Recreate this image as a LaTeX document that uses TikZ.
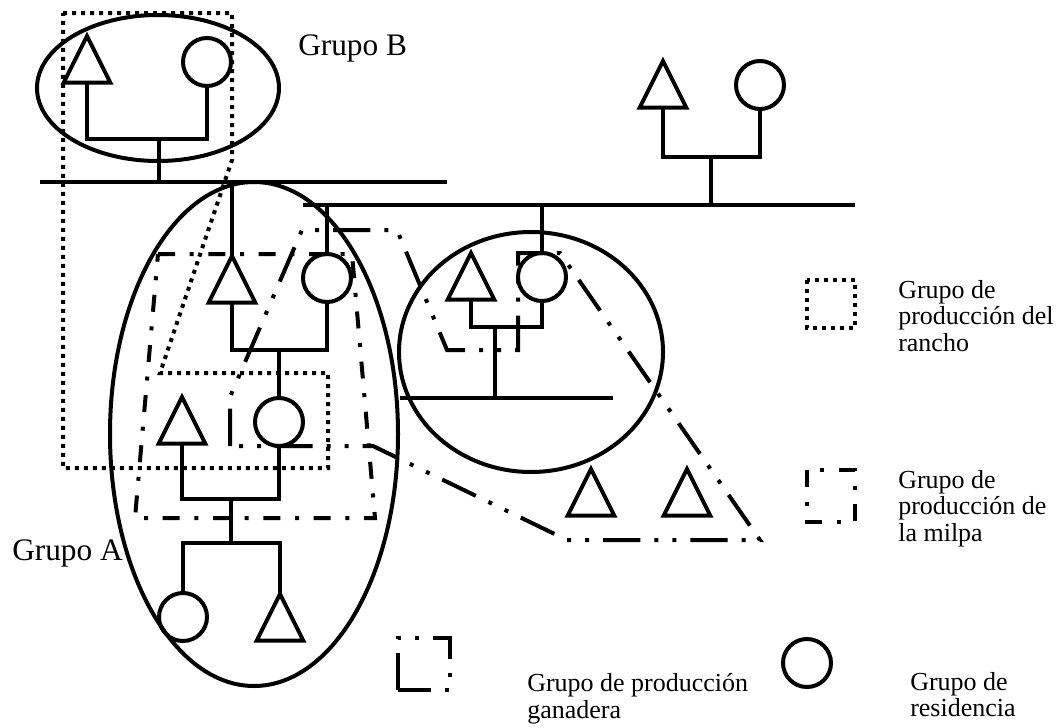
\documentclass[tikz,border=0pt]{standalone}
\usepackage{fontspec}
\setmainfont{Liberation Serif}
\usetikzlibrary{shapes.geometric}
\tikzset{
  kin/.style={line width=3pt},
  male/.style={draw, line width=3pt, isosceles triangle, shape border rotate=90,
    isosceles triangle stretches, minimum width=35pt, minimum height=35pt,
    inner sep=0pt, outer sep=0pt, anchor=apex},
  female/.style={draw, line width=3pt, circle, minimum size=36pt, inner sep=0pt, outer sep=0pt},
  rancho/.style={line width=3pt, dash pattern=on 3pt off 3.75pt},
  milpa/.style={line width=3pt, dash pattern=on 12.75pt off 11pt on 3pt off 11pt},
  ganado/.style={line width=3pt, dash pattern=on 28pt off 10.5pt on 3pt off 10.5pt on 3pt off 10.5pt},
  grupo/.style={font=\fontsize{23.5}{28}\selectfont, inner sep=0pt, anchor=base west},
  leyenda/.style={font=\fontsize{19.5}{20}\selectfont, inner sep=0pt, align=left, anchor=north west}
}

\begin{document}
\begin{tikzpicture}[x=0.75pt,y=-0.75pt]
\useasboundingbox (0,0) rectangle (1064,728);

\coordinate (s1w) at (40,182);
\coordinate (s1e) at (447,182);
\coordinate (s2w) at (303,205);
\coordinate (s2e) at (855,205);
\coordinate (s3w) at (400,398);
\coordinate (s3e) at (613,398);
\draw[kin] (s1w) -- (s1e);
\draw[kin] (s2w) -- (s2e);
\draw[kin] (s3w) -- (s3e);

% Grupo B
\node[male] (tB) at (87,36) {};
\node[female] (cB) at (207,62) {};
\coordinate (jB) at (159,139);
\draw[kin] (tB.lower side) |- (jB) -| (cB.south);
\draw[kin] (jB) -- (jB |- s1w);

\node[male] (tR) at (663,61) {};
\node[female] (cR) at (760,85) {};
\coordinate (jR) at (711,157);
\draw[kin] (tR.lower side) |- (jR) -| (cR.south);
\draw[kin] (jR) -- (jR |- s2w);

% Grupo A
\node[male] (tA1) at (232,256) {};
\node[female] (cA1) at (327,278) {};
\coordinate (jA1) at (279,350);
\draw[kin] (tA1.apex) -- (tA1.apex |- s1w);
\draw[kin] (cA1.north) -- (cA1.north |- s2w);
\draw[kin] (tA1.lower side) |- (jA1) -| (cA1.south);

\node[male] (tA2) at (182,397) {};
\node[female] (cA2) at (279,422) {};
\coordinate (jA2) at (231,499);
\draw[kin] (jA1) -- (cA2.north);
\draw[kin] (tA2.lower side) |- (jA2) -| (cA2.south);

\node[female] (cA3) at (183,617) {};
\node[male] (tA3) at (280,594) {};
\coordinate (jA3) at (231,543);
\draw[kin] (jA2) -- (jA3);
\draw[kin] (cA3.north) |- (jA3) -| (tA3.apex);

\node[male] (tC) at (471,253) {};
\node[female] (cC) at (542,277) {};
\coordinate (jC) at (495,327);
\draw[kin] (cC.north) -- (cC.north |- s2w);
\draw[kin] (tC.lower side) |- (jC) -| (cC.south);
\draw[kin] (jC) -- (jC |- s3w);

\node[male] (tD1) at (591,469) {};
\node[male] (tD2) at (687,469) {};

\draw[kin] (158,88) ellipse [x radius=121, y radius=73];
\draw[kin] (254,434) ellipse [x radius=144, y radius=252];
\draw[kin] (531,352) ellipse [x radius=132, y radius=120];

\draw[rancho] (63,13) -- (232,13) -- (232,160) -- (160,373) -- (328,373) -- (328,468) -- (63,468) -- cycle;
\draw[milpa] (158,254) -- (352,254) -- (375,518) -- (135,518) -- cycle;
\draw[ganado] (230,446) -- (230,397) -- (302,230) -- (397,230) -- (447,350) -- (518,350)
  -- (518,253) -- (560,253) -- (760,540) -- (567,540) -- (373,446) -- cycle;

\node[grupo] (lblB) at (298,55) {Grupo B};
\node[grupo] (lblA) at (12,560) {Grupo A};

\draw[rancho] (807,280) rectangle (855,328);
\node[leyenda] (legRancho) at (898,280) {Grupo de\\producción del\\rancho};
\draw[milpa] (807,470) rectangle (855,522);
\node[leyenda] (legMilpa) at (898,470) {Grupo de\\producción de\\la milpa};
\draw[ganado] (398,690) -- (398,638) -- (450,638) -- (450,690) -- cycle;
\node[leyenda] (legGanado) at (527,673) {Grupo de producción\\ganadera};
\node[female] (legRes) at (807,663) {};
\node[leyenda] (legResid) at (910,672) {Grupo de\\residencia};

\end{tikzpicture}
\end{document}
